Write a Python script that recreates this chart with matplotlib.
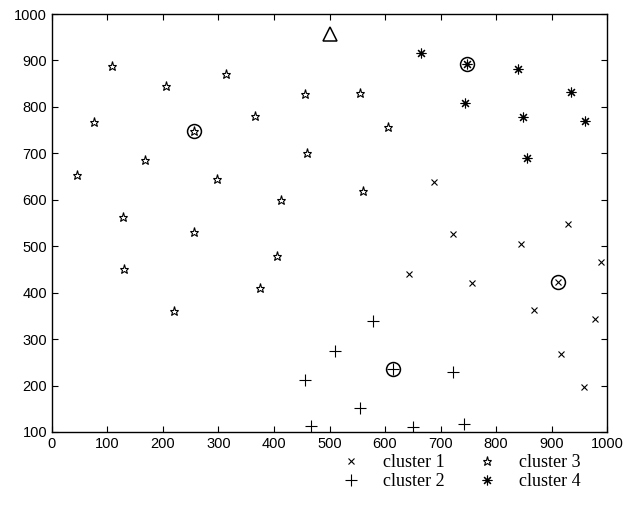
import numpy as np
import matplotlib.pyplot as plt

# cluster points
c1_x = [643, 688, 722, 757, 845, 868, 917, 930, 958, 978, 990]
c1_y = [440, 638, 527, 420, 505, 362, 268, 547, 197, 343, 467]

c2_x = [455, 467, 510, 555, 578, 650, 722, 742]
c2_y = [212, 112, 275, 152, 340, 110, 230, 118]

c3_x = [45, 75, 108, 128, 130, 168, 205, 220, 255, 297, 313, 365, 375, 405, 413, 455, 460, 555, 560, 605]
c3_y = [653, 767, 887, 563, 451, 686, 845, 360, 530, 645, 870, 780, 410, 478, 600, 828, 700, 830, 618, 757]

c4_x = [665, 745, 840, 848, 855, 935, 960]
c4_y = [917, 808, 882, 778, 690, 832, 770]

# cluster centres (circled) and the triangle point
cen_x = [912, 615, 255, 748]
cen_y = [422, 235, 748, 893]
tri_x = [500]
tri_y = [958]

fig = plt.figure(figsize=(6.24, 5.23), dpi=100)
ax = fig.add_axes([0.0833, 0.174, 0.8895, 0.7992])

ast = (8, 2, 0)
h1 = ax.plot(c1_x, c1_y, 'x', color='k', ms=4, mew=0.8, ls='none')[0]
h2 = ax.plot(c2_x, c2_y, '+', color='k', ms=8, mew=0.8, ls='none')[0]
h3 = ax.plot(c3_x, c3_y, '*', mfc='none', mec='k', ms=6.5, mew=0.8, ls='none')[0]
h4 = ax.plot(c4_x, c4_y, marker=ast, color='k', ms=7, mew=0.8, ls='none')[0]

# centres: cluster marker plus a circle round it
ax.plot(cen_x[0], cen_y[0], 'x', color='k', ms=4, mew=0.8)
ax.plot(cen_x[1], cen_y[1], '+', color='k', ms=8, mew=0.8)
ax.plot(cen_x[2], cen_y[2], '*', mfc='none', mec='k', ms=6.5, mew=0.8)
ax.plot(cen_x[3], cen_y[3], marker=ast, color='k', ms=7, mew=0.8)
ax.plot(cen_x, cen_y, 'o', mfc='none', mec='k', ms=10, mew=1.1, ls='none')

ax.plot(tri_x, tri_y, '^', mfc='none', mec='k', ms=10, mew=1.1)

ax.set_xlim(0, 1000)
ax.set_ylim(100, 1000)
ax.set_xticks(np.arange(0, 1001, 100))
ax.set_yticks(np.arange(100, 1001, 100))
ax.tick_params(direction='in', top=True, right=True, length=4, labelsize=10.5)
for lab in ax.get_xticklabels() + ax.get_yticklabels():
    lab.set_family('Liberation Sans')
for s in ax.spines.values():
    s.set_linewidth(1.0)

fig.legend([h1, h2, h3, h4], ['cluster 1', 'cluster 2', 'cluster 3', 'cluster 4'],
           ncol=2, frameon=False, loc='upper left', bbox_to_anchor=(0.534, 0.149),
           prop={'family': 'Liberation Serif', 'size': 13}, borderpad=0,
           handlelength=1.0, handletextpad=1.28, columnspacing=1.8,
           labelspacing=0.1, numpoints=1)

fig.savefig('out.png', dpi=100)
